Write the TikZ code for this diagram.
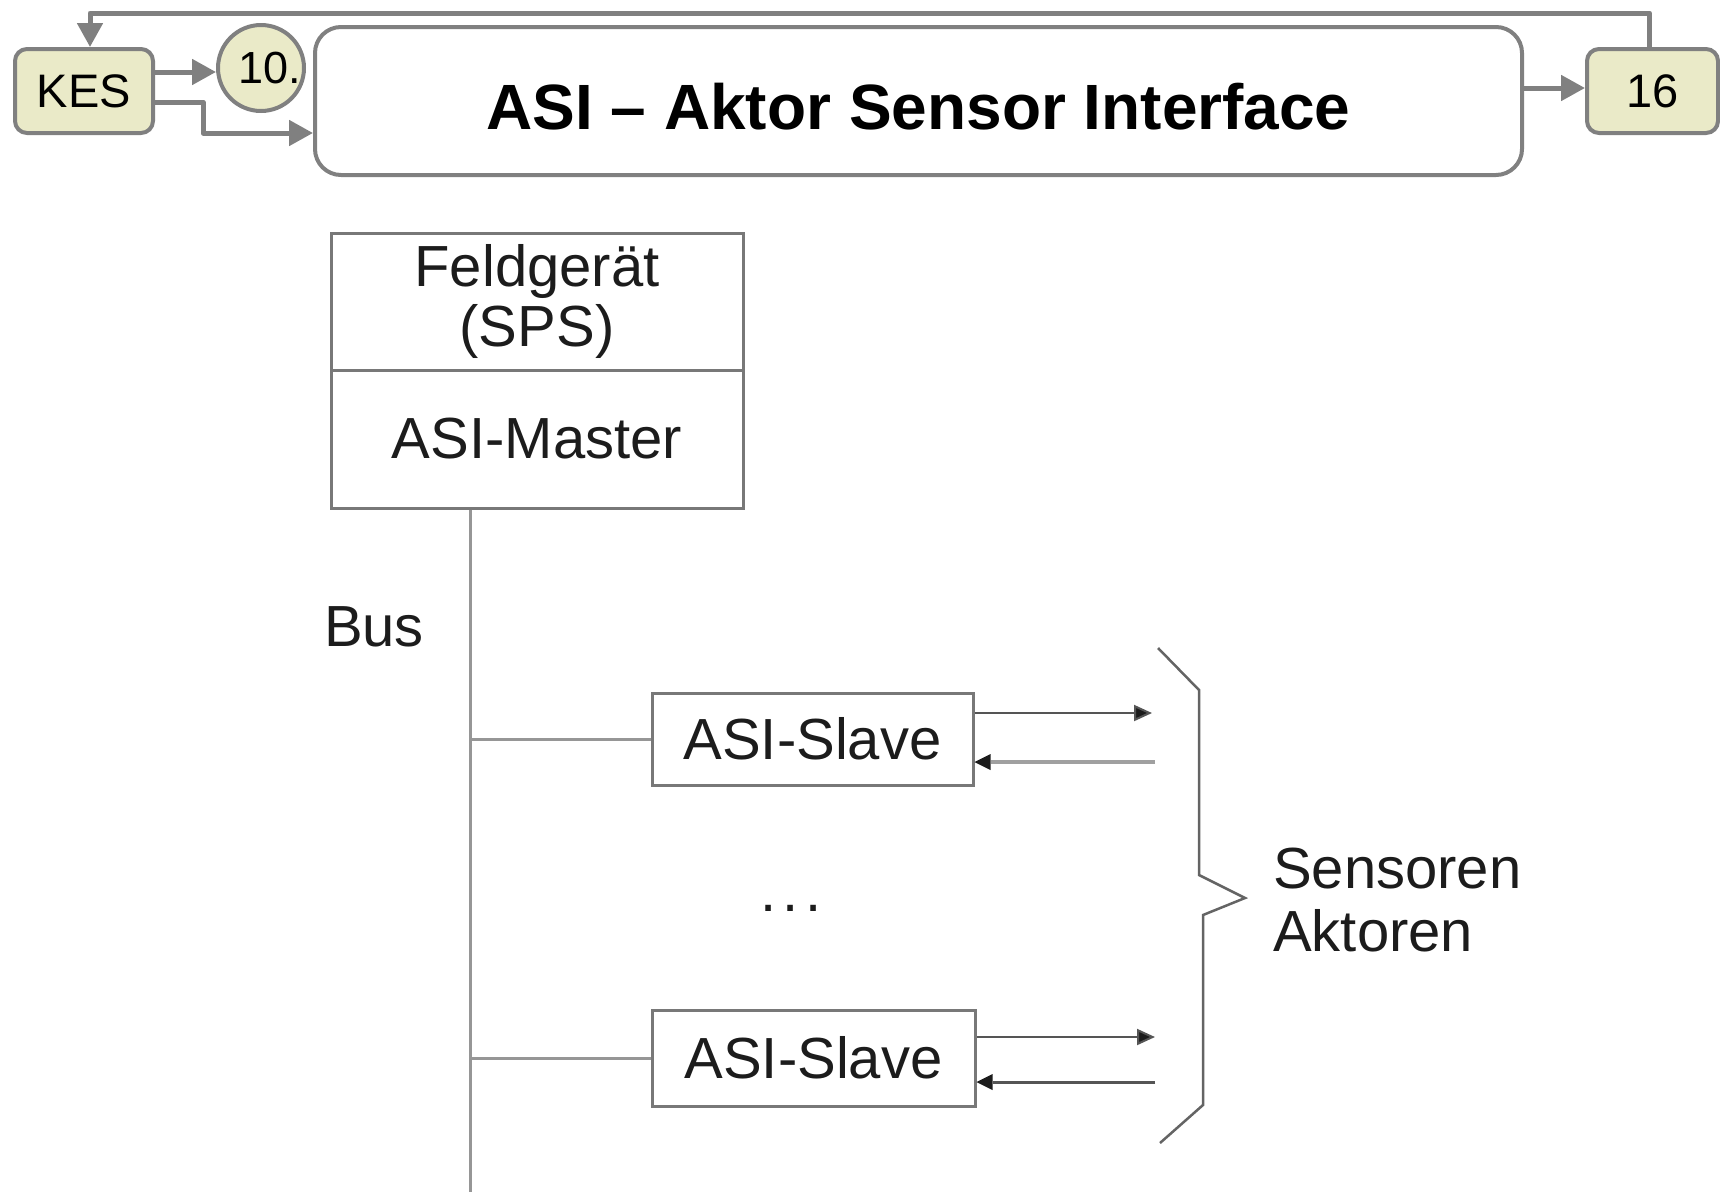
\documentclass[tikz,border=0pt]{standalone}
\usepackage{fontspec}
\setmainfont{Liberation Sans}
\usetikzlibrary{arrows.meta,calc}
\definecolor{edgegray}{RGB}{128,128,128}
\definecolor{boxfill}{RGB}{234,234,200}
\definecolor{ink}{RGB}{28,28,28}
\definecolor{buslinegray}{RGB}{150,150,150}
\definecolor{boxgray}{RGB}{120,120,120}
\definecolor{darkline}{RGB}{85,85,85}
\definecolor{lightline}{RGB}{160,160,160}
\definecolor{bracegray}{RGB}{100,100,100}
\begin{document}
\begin{tikzpicture}[x=1pt,y=-1pt,
  topbox/.style={draw=edgegray, line width=4pt, fill=boxfill, rounded corners=12pt, inner sep=0pt, minimum height=84pt, font=\fontsize{47}{50}\selectfont},
  numcircle/.style={circle, draw=edgegray, line width=4pt, fill=boxfill, inner sep=0pt, minimum size=86pt},
  numtext/.style={inner sep=0pt, font=\fontsize{45}{50}\selectfont},
  titlebox/.style={draw=edgegray, line width=4pt, rounded corners=26pt, minimum width=1207pt, minimum height=148pt, inner sep=0pt, text height=56pt, text depth=0pt, font=\bfseries\fontsize{64}{70}\selectfont},
  toparrow/.style={draw=edgegray, line width=5pt, line join=round, -{Triangle[length=24pt,width=25pt]}},
  fieldbox/.style={draw=boxgray, line width=3pt, minimum width=412pt, inner sep=0pt, text=ink, align=center, font=\fontsize{58}{60}\selectfont},
  slavebox/.style={draw=boxgray, line width=3pt, inner sep=0pt, text=ink, font=\fontsize{58}{60}\selectfont},
  plaintext/.style={inner sep=0pt, text=ink, font=\fontsize{58}{63}\selectfont},
  busline/.style={draw=buslinegray, line width=3pt},
  outarrow/.style={draw=darkline, line width=2pt, -{Triangle[length=18pt,width=16pt,fill=ink]}},
  inarrow/.style={draw=lightline, line width=4pt, -{Triangle[length=16pt,width=16pt,fill=ink,line width=0pt]}},
  bracepath/.style={draw=bracegray, line width=2.5pt}
]
\useasboundingbox (0,0) rectangle (1720,1192);

% top bar
\node[topbox, minimum width=138pt] (kes) at (84,91) {KES};
\node[numcircle] (c10) at (261,68) {};
\node[numtext] (t10) at (270,68) {10.};
\node[titlebox] (title) at (918.5,101) {ASI – Aktor Sensor Interface};
\node[topbox, minimum width=131pt] (n16) at (1652.5,91) {16};

\coordinate (kesA) at ([yshift=19pt]kes.east);
\coordinate (kesB) at ([yshift=-11pt]kes.east);
\coordinate (bendx) at (203,133);
\coordinate (titleA) at ([yshift=13pt]title.east);
\coordinate (fbtop) at (0,13);
\coordinate (n16top) at ([xshift=-3pt]n16.north);
\coordinate (kesTop) at ([xshift=6pt]kes.north);

\draw[toparrow] (kesA) -- (kesA -| c10.west);
\draw[toparrow] (kesB) -| (bendx) -- (bendx -| title.west);
\draw[toparrow] (titleA) -- (titleA -| n16.west);
\draw[toparrow] (n16top) -- (n16top |- fbtop) -| (kesTop);

% field device
\node[fieldbox, minimum height=137pt] (fg) at (537,301.5) {Feldgerät\\(SPS)};
\node[fieldbox, minimum height=138pt] (master) at (537,439) {ASI-Master};

\coordinate (busend) at (470,1192);
\draw[busline] (master.south -| busend) -- (busend);
\node[plaintext] (bus) at (374,627) {Bus};

\node[slavebox, minimum width=321pt, minimum height=92pt] (slave1) at (812.5,739) {ASI-Slave};
\node[slavebox, minimum width=323pt, minimum height=96pt] (slave2) at (813.5,1058) {ASI-Slave};

\draw[busline] (slave1.west -| busend) -- (slave1.west);
\draw[busline] (slave2.west -| busend) -- (slave2.west);

\node[plaintext] (dots) at (791,908) {.\hspace{6pt}.\hspace{6pt}.};

\coordinate (s1out) at (1152,713);
\coordinate (s1in) at (1155,762);
\coordinate (s2out) at (1155,1037);
\coordinate (s2in) at (1155,1082);
\draw[outarrow] (slave1.east |- s1out) -- (s1out);
\draw[inarrow] (s1in) -- (slave1.east |- s1in);
\draw[outarrow] (slave2.east |- s2out) -- (s2out);
\draw[inarrow, draw=darkline, line width=3pt] (s2in) -- (slave2.east |- s2in);

% brace
\draw[bracepath] (1158,648) -- (1199,690) -- (1199,875) -- (1245,898) -- (1203,915) -- (1203,1105) -- (1160,1143);

\node[plaintext, anchor=west, align=left] (sa) at (1273,900) {Sensoren\\Aktoren};
\end{tikzpicture}
\end{document}
